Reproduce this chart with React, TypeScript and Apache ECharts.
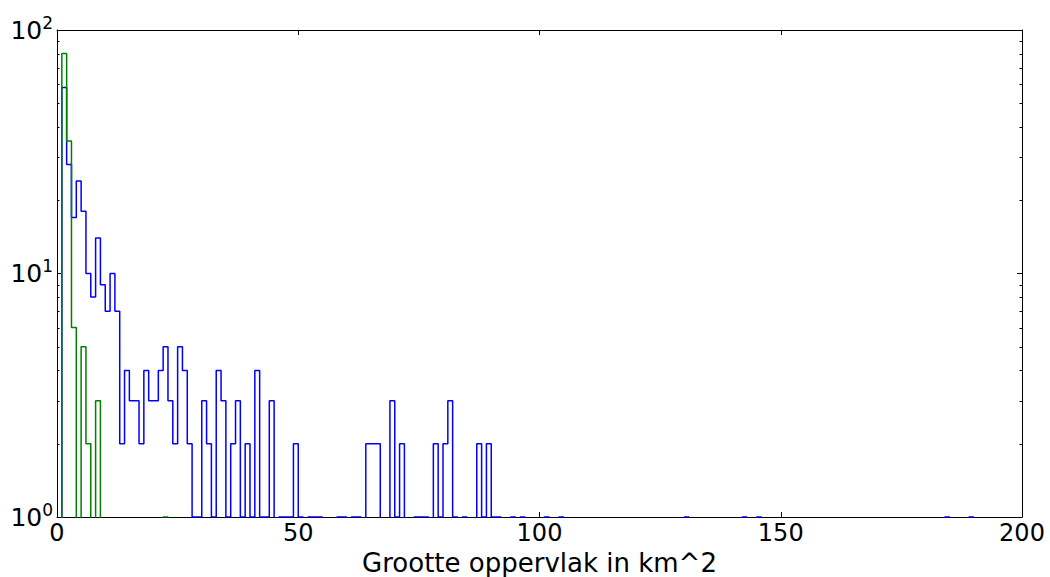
import React, { useEffect, useRef } from 'react';
import * as echarts from 'echarts';

// Histogram bins: bin i covers [binStart + i*binWidth, binStart + (i+1)*binWidth)
const binStart = 1;
const binWidth = 1;

// Blue histogram counts, bins 1..189
const blueCounts = [
  58, 28, 17, 24, 18, 10, 8, 14, 9, 7,
  10, 7, 2, 4, 3, 3, 2, 4, 3, 3,
  4, 5, 3, 2, 5, 4, 2, 1, 1, 3,
  2, 1, 4, 3, 1, 2, 3, 1, 2, 1,
  4, 1, 1, 3, 0, 1, 1, 1, 2, 1,
  0, 1, 1, 1, 0, 0, 0, 1, 1, 0,
  1, 1, 0, 2, 2, 2, 0, 0, 3, 1,
  2, 0, 0, 1, 1, 1, 0, 2, 1, 2,
  3, 1, 0, 1, 0, 0, 2, 1, 2, 1,
  1, 0, 0, 1, 0, 1, 0, 0, 0, 0,
  1, 0, 0, 1, 0, 0, 0, 0, 0, 0,
  0, 0, 0, 0, 0, 0, 0, 0, 0, 0,
  0, 0, 0, 0, 0, 0, 0, 0, 0, 1,
  0, 0, 0, 0, 0, 0, 0, 0, 0, 0,
  0, 1, 0, 0, 1, 0, 0, 0, 0, 0,
  0, 0, 0, 0, 0, 0, 0, 0, 0, 0,
  0, 0, 0, 0, 0, 0, 0, 0, 0, 0,
  0, 0, 0, 0, 0, 0, 0, 0, 0, 0,
  0, 0, 0, 1, 0, 0, 0, 0, 1,
];

// Green histogram counts, bins 1..22
const greenCounts = [
  80, 35, 6, 0, 5, 2, 0, 3, 0, 0,
  0, 0, 0, 0, 0, 0, 0, 0, 0, 0,
  0, 1,
];

const xMin = 0;
const xMax = 200;
const xInterval = 50;
const yMin = 1;
const yMax = 100;
const yMinorTicks = [2, 3, 4, 5, 6, 7, 8, 9, 20, 30, 40, 50, 60, 70, 80, 90];
const xAxisTitle = 'Grootte oppervlak in km^2';

const FLOOR = 1e-3; // zero counts drop below the log axis and are clipped
const FONT = 'DejaVu Sans';

function stepPoints(counts: number[]): number[][] {
  const v = (c: number) => (c > 0 ? c : FLOOR);
  const pts: number[][] = [[binStart, FLOOR]];
  counts.forEach((c, i) => pts.push([binStart + i * binWidth, v(c)]));
  const end = binStart + counts.length * binWidth;
  pts.push([end, v(counts[counts.length - 1])]);
  pts.push([end, FLOOR]);
  return pts;
}

export default function App() {
  const ref = useRef<HTMLDivElement>(null);

  useEffect(() => {
    if (!ref.current) return;
    const chart = echarts.init(ref.current, null, { renderer: 'svg' });
    const axisLine = { show: true, onZero: false, lineStyle: { color: '#000', width: 1 } };
    const tick = { show: true, inside: true, length: 5, lineStyle: { color: '#000', width: 1 } };

    chart.setOption({
      animation: false,
      backgroundColor: '#fff',
      grid: { left: 57, right: 28, top: 30, bottom: 60, containLabel: false, outerBoundsMode: 'none' },
      xAxis: [
        {
          type: 'value', min: xMin, max: xMax, interval: xInterval,
          axisLine, axisTick: tick, splitLine: { show: false },
          axisLabel: { fontSize: 24, color: '#000', fontFamily: FONT, margin: 4 },
          name: xAxisTitle, nameLocation: 'middle', nameGap: 25,
          nameTextStyle: { fontSize: 26, color: '#000', fontFamily: FONT },
        },
        {
          type: 'value', position: 'top', min: xMin, max: xMax, interval: xInterval,
          axisLine, axisTick: tick, splitLine: { show: false }, axisLabel: { show: false },
        },
      ],
      yAxis: [
        {
          type: 'log', logBase: 10, min: yMin, max: yMax,
          axisLine, axisTick: tick, splitLine: { show: false }, minorTick: { show: false },
          axisLabel: {
            margin: 4,
            formatter: (val: number) => `{b|10}{s|${Math.round(Math.log10(val))}}`,
            rich: {
              b: { fontSize: 25, color: '#000', fontFamily: FONT, lineHeight: 32 },
              s: { fontSize: 17, color: '#000', fontFamily: FONT, lineHeight: 17, verticalAlign: 'top' },
            },
          },
        },
        {
          type: 'log', logBase: 10, min: yMin, max: yMax, position: 'right',
          axisLine, axisTick: tick, splitLine: { show: false }, axisLabel: { show: false },
        },
      ],
      series: [
        {
          type: 'line', step: 'end', xAxisIndex: 0, yAxisIndex: 0,
          data: stepPoints(blueCounts), showSymbol: false, symbol: 'none', clip: true,
          lineStyle: { color: '#0000ff', width: 1.5 }, z: 2, silent: true,
        },
        {
          type: 'line', step: 'end', xAxisIndex: 0, yAxisIndex: 0,
          data: stepPoints(greenCounts), showSymbol: false, symbol: 'none', clip: true,
          lineStyle: { color: '#008000', width: 1.5 }, z: 3, silent: true,
        },
        {
          type: 'custom', coordinateSystem: 'cartesian2d', xAxisIndex: 0, yAxisIndex: 0,
          data: yMinorTicks.map((v) => [xMin, v]), encode: { x: 0, y: 1 },
          clip: false, silent: true, z: 10,
          renderItem: (params: any, api: any) => {
            const cs = params.coordSys;
            const y = Math.round(api.coord([xMin, api.value(1)])[1]) + 0.5;
            const style = { stroke: '#000', lineWidth: 1 };
            return {
              type: 'group',
              children: [
                { type: 'line', shape: { x1: cs.x, y1: y, x2: cs.x + 2.5, y2: y }, style },
                { type: 'line', shape: { x1: cs.x + cs.width - 2.5, y1: y, x2: cs.x + cs.width, y2: y }, style },
              ],
            };
          },
        },
      ],
    });
    return () => chart.dispose();
  }, []);

  return (
    <div
      ref={ref}
      style={{ position: 'fixed', left: 0, top: 0, width: 1050, height: 577, background: '#fff' }}
    />
  );
}
